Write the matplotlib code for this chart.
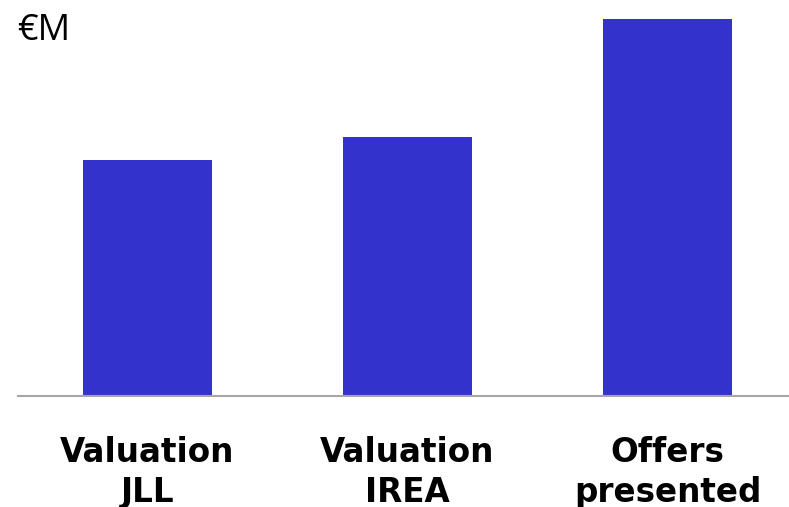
import matplotlib
matplotlib.use("Agg")
import matplotlib.pyplot as plt

categories = ["Valuation\nJLL", "Valuation\nIREA", "Offers\npresented"]
values = [236, 259, 377]
unit_label = "€M"

W, H = 789, 507
fig = plt.figure(figsize=(W / 100, H / 100), dpi=100)
ax = fig.add_axes([18 / W, 1 - 396 / H, (W - 18) / W, (396 - 0) / H])

x = range(len(categories))
ax.bar(x, values, width=0.496, color="#3333CC")
ax.set_xlim(-0.498, 2.467)
ax.set_ylim(0, 396)

for s in ["top", "right", "left"]:
    ax.spines[s].set_visible(False)
ax.spines["bottom"].set_color("#A6A6A6")
ax.spines["bottom"].set_linewidth(1.5)
ax.set_yticks([])
ax.set_xticks(list(x))
ax.set_xticklabels(categories, fontsize=23.5, fontweight="bold",
                   family="DejaVu Sans", linespacing=1.24)
ax.tick_params(axis="x", length=0, pad=29)

fig.text(17 / W, 1 - 31 / H, unit_label, fontsize=26, family="Open Sans",
         va="center", ha="left")

fig.savefig("out.png", dpi=100)
